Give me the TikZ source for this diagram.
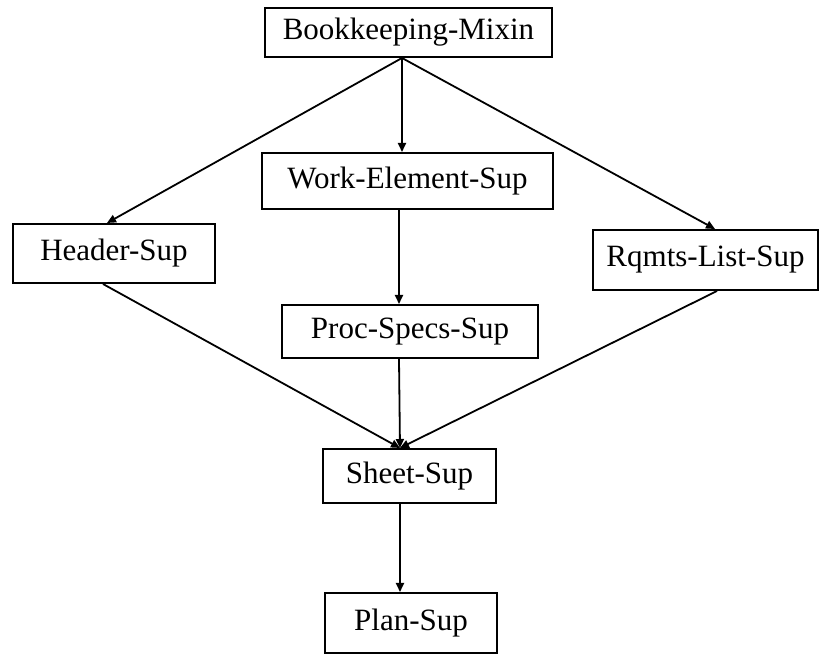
\documentclass[tikz,border=0pt]{standalone}
\usepackage{fontspec}
\setmainfont{Liberation Serif}
\usetikzlibrary{arrows.meta}

\tikzset{
  supbox/.style={draw,line width=1pt,inner sep=0pt,
    font=\fontsize{15.5}{18}\selectfont},
  link/.style={line width=0.9pt},
  arr/.style={link,-{Triangle[length=4.5pt,width=4pt]}}
}

\begin{document}
\begin{tikzpicture}[x=1pt,y=-1pt]
\useasboundingbox (0,0) rectangle (410.5,328);

\node [supbox,minimum width=143.5pt,minimum height=24.5pt] (bookkeeping) at (204.25,16.25) {Bookkeeping-Mixin};
\node [supbox,minimum width=145.5pt,minimum height=28pt]   (workelement) at (203.75,90.5)  {Work-Element-Sup};
\node [supbox,minimum width=101pt,minimum height=29.5pt]   (header)      at (57,126.75)    {Header-Sup};
\node [supbox,minimum width=112.5pt,minimum height=30pt]   (rqmts)       at (352.75,130)   {Rqmts-List-Sup};
\node [supbox,minimum width=128pt,minimum height=26.5pt]   (procspecs)   at (205,165.75)   {Proc-Specs-Sup};
\node [supbox,minimum width=86.5pt,minimum height=27pt]    (sheet)       at (204.75,238)   {Sheet-Sup};
\node [supbox,minimum width=86pt,minimum height=30pt]      (plan)        at (205.5,311.5)  {Plan-Sup};

\draw [arr] ([xshift=-3.25pt]bookkeeping.south) -- ([xshift=-3.5pt]header.north);
\draw [arr] ([xshift=-3.25pt]bookkeeping.south) -- ([xshift=-2.75pt]workelement.north);
\draw [arr] ([xshift=-3.25pt]bookkeeping.south) -- ([xshift=4.75pt]rqmts.north);
\draw [arr] ([xshift=-4.25pt]workelement.south) -- ([xshift=-5.5pt]procspecs.north);
\draw [arr] ([xshift=-5.5pt]header.south)     -- ([xshift=-4.75pt]sheet.north);
\draw [arr] ([xshift=-5.5pt]procspecs.south)  -- ([xshift=-4.75pt]sheet.north);
\draw [arr] ([xshift=5.75pt]rqmts.south)      -- ([xshift=-4.75pt]sheet.north);
\draw [arr] ([xshift=-4.75pt]sheet.south)     -- ([xshift=-5.5pt]plan.north);
\end{tikzpicture}
\end{document}
